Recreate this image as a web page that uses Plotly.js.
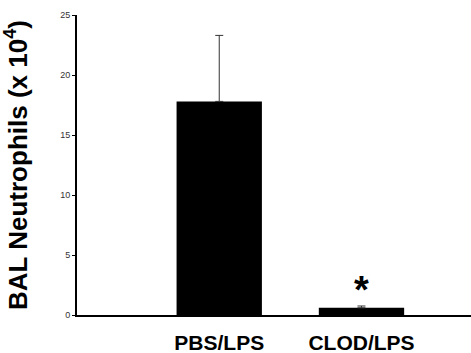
<!DOCTYPE html>
<html>
<head>
<meta charset="utf-8">
<script src="https://cdn.plot.ly/plotly-3.0.1.min.js"></script>
<style>html,body{margin:0;padding:0;background:#fff;}#chart{width:471px;height:353px;}</style>
</head>
<body>
<div id="chart"></div>
<script>
const categories = ["PBS/LPS", "CLOD/LPS"];
const neutrophils = [17.8, 0.6];
const errors = [5.5, 0.15];
const yTicks = [0, 5, 10, 15, 20, 25];

const trace = {
  type: "bar",
  x: categories,
  y: neutrophils,
  width: 0.6,
  marker: {color: "#000000", line: {width: 0}},
  error_y: {type: "data", array: errors, symmetric: false, arrayminus: [0, 0], visible: true, color: "#333333", thickness: 1, width: 4}
};

const layout = {
  width: 471, height: 353,
  margin: {l: 77, r: 0, t: 15, b: 38},
  paper_bgcolor: "#ffffff", plot_bgcolor: "#ffffff",
  showlegend: false,
  xaxis: {
    type: "category",
    range: [-1, 1.77],
    showline: true, linecolor: "#000000", linewidth: 2,
    ticks: "", showgrid: false, zeroline: false,
    ticklabelstandoff: 8,
    tickfont: {family: "Liberation Sans, Arial, sans-serif", size: 21, color: "#000000", weight: "bold"}
  },
  yaxis: {
    range: [0, 25],
    tickvals: yTicks,
    showline: true, linecolor: "#000000", linewidth: 2,
    ticks: "outside", ticklen: 3, tickcolor: "#000000", tickwidth: 1,
    showgrid: false, zeroline: false,
    tickfont: {family: "Liberation Sans, Arial, sans-serif", size: 9, color: "#333333"},
    title: {text: "BAL Neutrophils (x 10<sup>4</sup>)", standoff: 26,
      font: {family: "Liberation Sans, Arial, sans-serif", size: 26, color: "#000000", weight: "bold"}}
  },
  annotations: [{
    x: "CLOD/LPS", y: 2.1, xref: "x", yref: "y",
    text: "*", showarrow: false, yanchor: "middle",
    font: {family: "Liberation Sans, Arial, sans-serif", size: 38, color: "#000000", weight: "bold"}
  }]
};

Plotly.newPlot("chart", [trace], layout, {displayModeBar: false, staticPlot: true});
</script>
</body>
</html>
